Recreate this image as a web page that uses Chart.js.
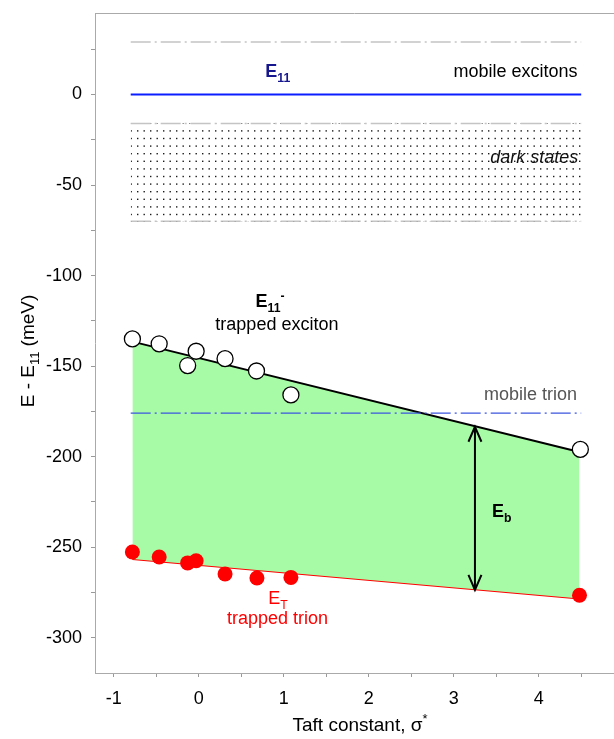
<!DOCTYPE html>
<html><head><meta charset="utf-8">
<script src="https://cdn.jsdelivr.net/npm/chart.js@4.4.1/dist/chart.umd.min.js"></script>
<style>html,body{margin:0;padding:0;background:#fff;}#wrap{width:614px;height:739px;position:relative;}canvas{display:block;}</style>
</head><body><div id="wrap"><canvas id="c"></canvas></div>
<script>
// ---- data ----
const excitonX = [-0.78, -0.465, -0.03, -0.13, 0.31, 0.68, 1.085, 4.49];
const excitonY = [-135, -137.7, -141.8, -149.7, -145.9, -152.7, -165.9, -196];
const trionX = [-0.78, -0.465, -0.13, -0.03, 0.31, 0.685, 1.085, 4.48];
const trionY = [-252.7, -255.4, -258.7, -257.5, -264.8, -267, -266.7, -276.6];
const fitX = [-0.78, 4.48];
const excitonFitY = [-136.5, -197.5];
const trionFitY = [-256.5, -278.3];
const levelX = [-0.8, 4.5];
const mobileExcitonY = [0, 0];
const mobileTrionY = [-176, -176];
const upperLevelY = [29, 29];
const darkTopY = [-16, -16];
const darkBottomY = [-70, -70];
const ebX = [3.25, 3.25];
const ebY = [-183.5, -273.6];
const xTickValues = [-1, -0.5, 0, 0.5, 1, 1.5, 2, 2.5, 3, 3.5, 4, 4.5];
const xTickLabels = ['-1', '', '0', '', '1', '', '2', '', '3', '', '4', ''];
const yTickValues = [25, 0, -25, -50, -75, -100, -125, -150, -175, -200, -225, -250, -275, -300];
const yTickLabels = ['', '0', '', '-50', '', '-100', '', '-150', '', '-200', '', '-250', '', '-300'];

const FONT = '"Liberation Sans", Arial, sans-serif';
const pts = (xs, ys) => xs.map((x, i) => ({x: x, y: ys[i]}));

// dotted pattern for "dark states"
const pc = document.createElement('canvas');
pc.width = 13; pc.height = 38;
const pctx = pc.getContext('2d');
pctx.fillStyle = '#1a1a1a';
[1, 8.6, 16.2, 23.8, 31.4].forEach(r => { pctx.fillRect(0.5, r, 1.4, 1.4); pctx.fillRect(7, r, 1.4, 1.4); });
const dotPattern = pctx.createPattern(pc, 'repeat');

const dashDot = [20, 4, 2, 4];

// annotations (data coordinates, baseline)
const notes = [
  {x: 0.93, y: 9.8, align: 'center', color: '#16168f', bold: true, parts: [{t: 'E'}, {t: '11', sub: true}]},
  {x: 4.457, y: 9.8, align: 'right', color: '#000', parts: [{t: 'mobile excitons'}]},
  {x: 4.465, y: -38.0, align: 'right', color: '#111', italic: true, parts: [{t: 'dark states'}]},
  {x: 0.84, y: -117.5, align: 'center', color: '#000', bold: true, parts: [{t: 'E'}, {t: '11', sub: true}, {t: '-', sup: true}]},
  {x: 0.92, y: -130, align: 'center', color: '#000', parts: [{t: 'trapped exciton'}]},
  {x: 4.45, y: -168.8, align: 'right', color: '#555', parts: [{t: 'mobile trion'}]},
  {x: 3.45, y: -233.5, align: 'left', color: '#000', bold: true, parts: [{t: 'E'}, {t: 'b', sub: true}]},
  {x: 0.818, y: -281.4, align: 'left', color: '#f00', parts: [{t: 'E'}, {t: 'T', sub: true}]},
  {x: 0.928, y: -292.4, align: 'center', color: '#f00', parts: [{t: 'trapped trion'}]}
];

function richWidth(ctx, parts, size, style) {
  let w = 0;
  parts.forEach(p => {
    const s = (p.sub || p.sup) ? size * 0.68 : size;
    ctx.font = style + s + 'px ' + FONT;
    w += ctx.measureText(p.t).width;
  });
  return w;
}
function drawRich(ctx, parts, x, y, size, style, align) {
  const w = richWidth(ctx, parts, size, style);
  let cx = align === 'center' ? x - w / 2 : (align === 'right' ? x - w : x);
  ctx.textAlign = 'left';
  ctx.textBaseline = 'alphabetic';
  parts.forEach(p => {
    const s = (p.sub || p.sup) ? size * 0.68 : size;
    ctx.font = style + s + 'px ' + FONT;
    const dy = p.sub ? size * 0.28 : (p.sup ? -size * 0.42 : 0);
    ctx.fillText(p.t, cx, y + dy);
    cx += ctx.measureText(p.t).width;
  });
}

const extras = {
  id: 'extras',
  afterDraw(chart) {
    const ctx = chart.ctx, a = chart.chartArea;
    const xs = chart.scales.x, ys = chart.scales.y;
    ctx.save();
    // top frame
    ctx.strokeStyle = '#aaa'; ctx.lineWidth = 1;
    ctx.beginPath(); ctx.moveTo(a.left, a.top + 0.5); ctx.lineTo(a.right, a.top + 0.5); ctx.stroke();
    // arrow heads for E_b
    const ax = xs.getPixelForValue(ebX[0]);
    const yTop = ys.getPixelForValue(ebY[0]), yBot = ys.getPixelForValue(ebY[1]);
    ctx.strokeStyle = '#000'; ctx.lineWidth = 2;
    ctx.beginPath();
    ctx.moveTo(ax - 6.5, yTop + 15); ctx.lineTo(ax, yTop); ctx.lineTo(ax + 6.5, yTop + 15);
    ctx.moveTo(ax - 6.5, yBot - 15); ctx.lineTo(ax, yBot); ctx.lineTo(ax + 6.5, yBot - 15);
    ctx.stroke();
    // annotations
    notes.forEach(n => {
      ctx.fillStyle = n.color;
      const style = (n.italic ? 'italic ' : '') + (n.bold ? 'bold ' : '');
      drawRich(ctx, n.parts, xs.getPixelForValue(n.x), ys.getPixelForValue(n.y), 18, style, n.align);
    });
    // axis titles
    ctx.fillStyle = '#000';
    drawRich(ctx, [{t: 'Taft constant, '}, {t: 'σ'}, {t: '*', sup: true}], 360, 731, 19, '', 'center');
    ctx.translate(34, (a.top + a.bottom) / 2 + 8);
    ctx.rotate(-Math.PI / 2);
    drawRich(ctx, [{t: 'E - E'}, {t: '11', sub: true}, {t: ' (meV)'}], 0, 0, 19, '', 'center');
    ctx.restore();
  }
};

const lineDs = (data, color, width, dash, order, extra) => Object.assign({
  data: data, showLine: true, borderColor: color, borderWidth: width, borderDash: dash || [],
  pointRadius: 0, fill: false, order: order, tension: 0
}, extra || {});

new Chart(document.getElementById('c'), {
  type: 'scatter',
  data: {
    datasets: [
      {data: pts(excitonX, excitonY), showLine: false, pointRadius: 8, pointBackgroundColor: '#fff',
       pointBorderColor: '#000', pointBorderWidth: 1.3, order: 0},
      {data: pts(trionX, trionY), showLine: false, pointRadius: 7.5, pointBackgroundColor: '#f00',
       pointBorderColor: '#f00', pointBorderWidth: 0, order: 1},
      lineDs(pts(ebX, ebY), '#000', 2, null, 2),
      lineDs(pts(fitX, excitonFitY), '#000', 2, null, 3, {fill: {target: '+1'}, backgroundColor: '#a8fba6'}),
      lineDs(pts(fitX, trionFitY), '#f00', 2.2, null, 3),
      lineDs(pts(levelX, mobileTrionY), '#3b55e0', 1.2, dashDot, 2.5),
      lineDs(pts(levelX, mobileExcitonY), '#0a1eff', 2.2, null, 4),
      lineDs(pts(levelX, upperLevelY), '#c4c4c4', 1.5, dashDot, 5),
      lineDs(pts(levelX, darkTopY), '#c4c4c4', 1.5, dashDot, 6, {fill: {target: '+1'}, backgroundColor: dotPattern}),
      lineDs(pts(levelX, darkBottomY), '#c4c4c4', 1.5, dashDot, 6)
    ]
  },
  options: {
    responsive: true, maintainAspectRatio: false, animation: false, devicePixelRatio: 1,
    layout: {autoPadding: false, padding: {top: 13, right: 0, bottom: 0, left: 0}},
    plugins: {legend: {display: false}, tooltip: {enabled: false}},
    scales: {
      x: {
        type: 'linear', min: -1.22, max: 4.886,
        afterBuildTicks: s => { s.ticks = xTickValues.map(v => ({value: v})); },
        afterFit: s => { s.height = 66; s.paddingLeft = 0; s.paddingRight = 0; },
        ticks: {autoSkip: false, maxRotation: 0, color: '#000', padding: 11,
                font: {family: FONT, size: 18}, callback: (v, i) => xTickLabels[i]},
        grid: {display: true, drawOnChartArea: false, drawTicks: true, tickLength: 4, color: '#999'},
        border: {display: true, color: '#aaa', width: 1}
      },
      y: {
        type: 'linear', min: -319.5, max: 45,
        afterBuildTicks: s => { s.ticks = yTickValues.map(v => ({value: v})); },
        afterFit: s => { s.width = 95; s.paddingTop = 0; s.paddingBottom = 0; },
        ticks: {autoSkip: false, color: '#000', padding: 9,
                font: {family: FONT, size: 18}, callback: (v, i) => yTickLabels[i]},
        grid: {display: true, drawOnChartArea: false, drawTicks: true, tickLength: 4, color: '#999'},
        border: {display: true, color: '#aaa', width: 1}
      }
    }
  },
  plugins: [extras]
});
</script>
</body></html>
